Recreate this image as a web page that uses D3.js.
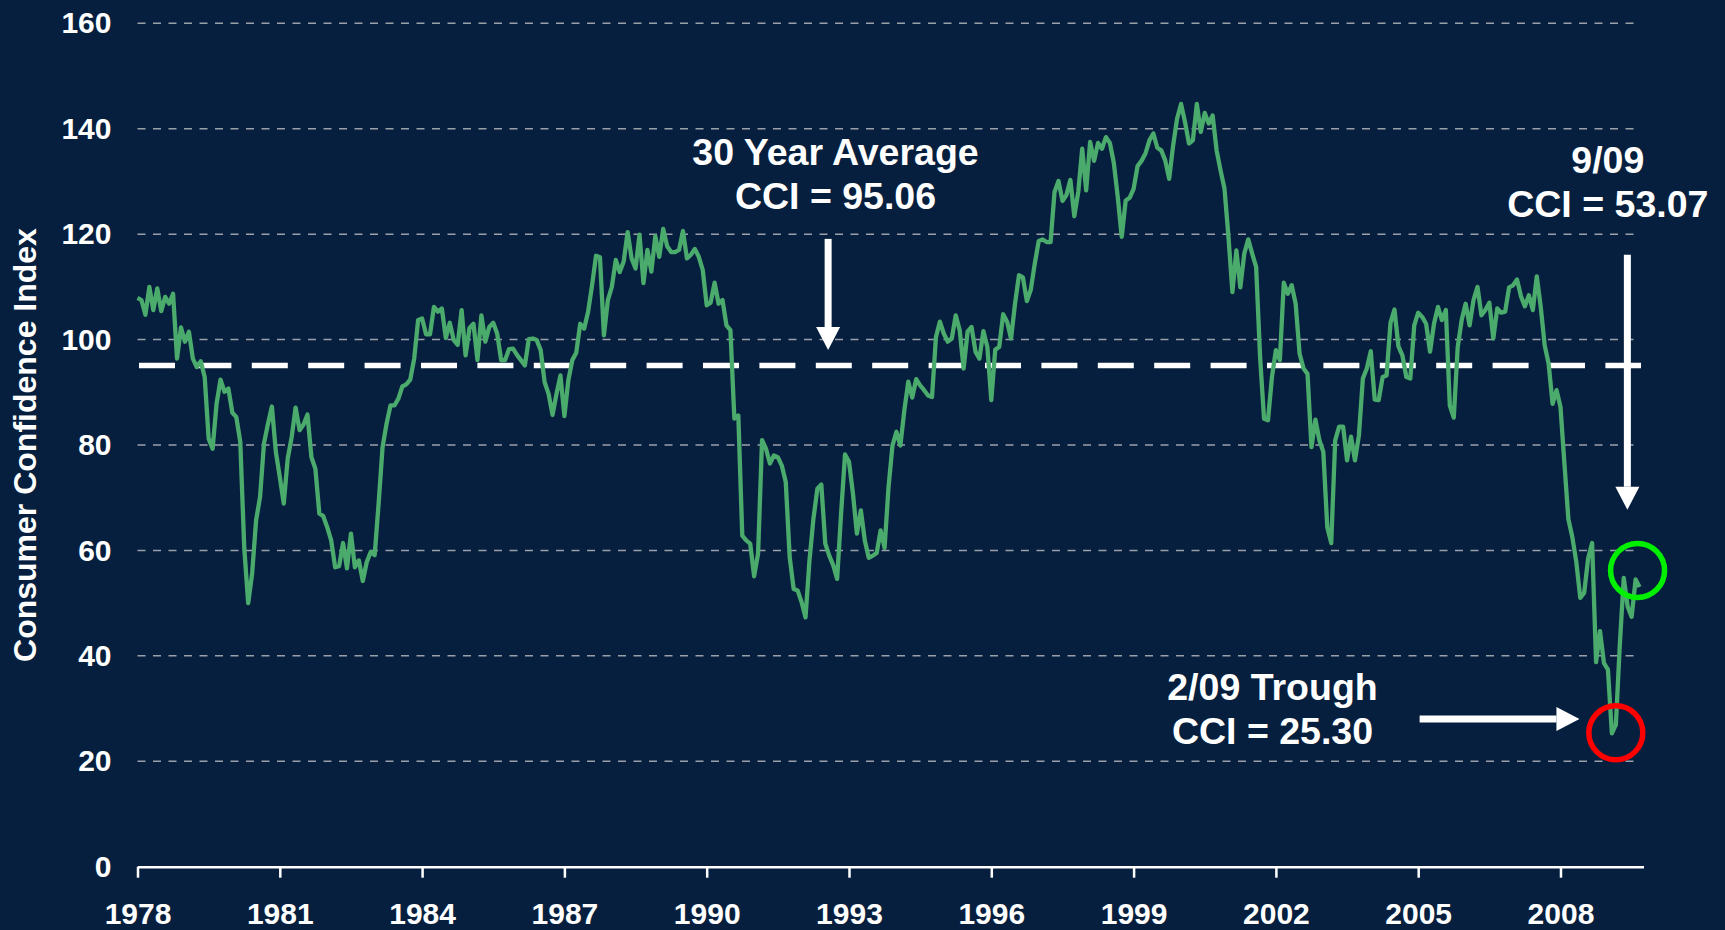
<!DOCTYPE html>
<html>
<head>
<meta charset="utf-8">
<script src="https://cdn.jsdelivr.net/npm/d3@7"></script>
<style>
  body { margin: 0; background: #061f3e; }
  svg { display: block; font-family: "Liberation Sans", Arial, sans-serif; }
</style>
</head>
<body>
<div id="cci"></div>
<script>
// monthly consumer confidence index, jan 1978 -> sep 2009 (one row per year)
const startYear = 1978;
const cciValues = [
  107.9, 107.5, 104.7, 110.0, 105.6, 109.7, 105.4, 108.1, 106.8, 108.7, 96.4, 102.3,
  99.6, 101.5, 96.4, 94.8, 95.9, 92.9, 81.2, 79.3, 87.8, 92.4, 90.1, 90.7,
  86.1, 85.3, 80.6, 60.6, 50.0, 55.6, 65.7, 70.1, 80.3, 84.0, 87.3, 78.7,
  73.9, 68.9, 77.4, 81.5, 87.1, 82.8, 83.9, 85.8, 77.7, 75.5, 67.0, 66.5,
  64.4, 61.9, 56.8, 57.0, 61.4, 56.6, 63.2, 56.8, 58.1, 54.2, 57.8, 59.7,
  59.1, 68.9, 79.6, 84.0, 87.5, 87.5, 88.8, 91.1, 91.5, 92.4, 96.4, 103.7,
  104.0, 101.0, 101.0, 106.2, 105.3, 105.9, 100.3, 103.2, 99.9, 99.0, 105.6, 97.0,
  102.2, 103.0, 96.1, 104.6, 99.6, 102.4, 103.2, 101.1, 96.1, 96.1, 98.2, 98.3,
  97.1, 96.1, 95.1, 100.1, 100.2, 99.9, 98.0, 91.9, 89.7, 85.7, 89.7, 93.2,
  85.5, 92.3, 96.1, 97.5, 103.0, 102.1, 105.3, 110.3, 115.9, 115.6, 100.8, 107.5,
  110.0, 115.1, 112.8, 114.8, 120.4, 115.4, 113.5, 119.9, 110.7, 117.0, 112.9, 119.6,
  115.7, 121.0, 117.7, 116.6, 116.6, 117.0, 120.6, 115.4, 116.1, 117.2, 115.7, 113.2,
  106.5, 107.0, 110.8, 106.8, 107.5, 102.7, 101.8, 85.0, 85.6, 62.8, 61.9, 61.3,
  55.1, 59.4, 80.9, 79.3, 76.5, 78.0, 77.7, 76.1, 73.0, 58.7, 52.7, 52.4,
  50.2, 47.3, 58.1, 66.0, 71.7, 72.5, 61.3, 59.0, 57.2, 54.6, 67.0, 78.2,
  76.8, 70.8, 63.2, 67.6, 61.9, 58.6, 59.0, 59.5, 63.8, 60.5, 72.0, 79.9,
  82.5, 79.9, 86.6, 92.0, 89.0, 92.5, 91.3, 90.4, 89.4, 89.1, 100.5, 103.4,
  101.1, 99.6, 100.2, 104.6, 101.8, 94.5, 101.5, 102.4, 97.7, 96.4, 101.6, 98.6,
  88.5, 98.1, 98.6, 104.8, 103.4, 100.2, 106.8, 112.2, 111.8, 107.3, 109.5, 114.4,
  118.7, 119.0, 118.5, 118.5, 128.0, 130.1, 126.3, 127.4, 130.3, 123.4, 128.0, 136.2,
  128.3, 137.5, 133.9, 137.3, 136.2, 138.4, 137.3, 133.5, 127.0, 119.5, 126.4, 126.9,
  128.6, 132.9, 133.9, 135.3, 137.8, 139.1, 136.4, 135.9, 134.0, 130.5, 136.8, 141.9,
  144.7, 141.3, 137.2, 137.8, 144.7, 139.4, 143.0, 141.0, 142.5, 135.9, 132.1, 128.6,
  119.5, 109.0, 116.9, 109.9, 116.3, 119.0, 116.3, 113.8, 96.7, 85.0, 84.7, 92.9,
  98.0, 96.1, 110.8, 108.7, 110.3, 106.8, 97.3, 94.5, 93.5, 79.6, 84.8, 80.9,
  78.7, 64.4, 61.4, 80.9, 83.5, 83.5, 77.1, 81.6, 77.1, 81.8, 92.6, 94.5,
  97.8, 88.6, 88.5, 92.9, 93.2, 103.2, 105.7, 98.7, 97.0, 92.9, 92.6, 102.7,
  105.1, 104.3, 103.0, 97.7, 103.0, 106.2, 103.7, 105.6, 87.5, 85.2, 98.6, 103.7,
  106.8, 102.7, 107.5, 110.0, 104.6, 105.6, 107.0, 100.2, 105.9, 105.1, 105.3, 109.9,
  110.3, 111.4, 108.2, 106.3, 108.4, 105.6, 112.0, 106.2, 98.9, 95.4, 87.8, 90.4,
  87.2, 76.4, 65.9, 62.5, 57.8, 51.0, 52.0, 58.5, 61.4, 38.8, 44.7, 38.6,
  37.4, 25.3, 26.9, 42.0, 54.8, 49.3, 47.4, 54.5, 53.07
];

const yTicks = [0, 20, 40, 60, 80, 100, 120, 140, 160];
const xTickYears = [1978, 1981, 1984, 1987, 1990, 1993, 1996, 1999, 2002, 2005, 2008];
const averageCCI = 95.06;

// the two highlighted months (decimal years) - circles sit on / near them
const troughMark = { year: 2009 + 2 / 12, value: 25.4 };
const latestMark = { year: 2009 + 7.5 / 12, value: 56.2 };

const W = 1725, H = 930;

const svg = d3.select("#cci")
  .append("svg")
  .attr("width", W)
  .attr("height", H);

svg.append("rect")
  .attr("width", W)
  .attr("height", H)
  .attr("fill", "#061f3e");

// x runs on decimal years, one extra month at the end like the original
const x = d3.scaleLinear()
  .domain([startYear, startYear + cciValues.length / 12])
  .range([137.5, 1643.5]);

const y = d3.scaleLinear()
  .domain([0, 160])
  .range([866.7, 23.3]);

// dashed grid
svg.append("g")
  .selectAll("line")
  .data(yTicks.filter(d => d > 0))
  .join("line")
  .attr("x1", x.range()[0])
  .attr("x2", 1636)
  .attr("y1", d => y(d))
  .attr("y2", d => y(d))
  .attr("stroke", "#9aa0aa")
  .attr("stroke-width", 1.5)
  .attr("stroke-dasharray", "8 7.5");

// y labels (no axis line in the original)
const yAxis = svg.append("g")
  .attr("transform", "translate(" + x.range()[0] + ",0)")
  .call(d3.axisLeft(y).tickValues(yTicks).tickSize(0).tickPadding(26));
yAxis.select(".domain").remove();
yAxis.selectAll("text")
  .attr("fill", "#fff")
  .style("font-size", "30px")
  .style("font-weight", "bold")
  .style("font-family", "Liberation Sans, Arial, sans-serif");

// x axis
const xAxis = svg.append("g")
  .attr("transform", "translate(0," + y(0) + ")")
  .call(d3.axisBottom(x).tickValues(xTickYears).tickFormat(d3.format("d")).tickSize(11).tickPadding(25).tickSizeOuter(0));
xAxis.select(".domain").attr("stroke", "#fff").attr("stroke-width", 2.5);
xAxis.selectAll(".tick line").attr("stroke", "#fff").attr("stroke-width", 2.5);
xAxis.selectAll("text")
  .attr("fill", "#fff")
  .style("font-size", "30px")
  .style("font-weight", "bold")
  .style("font-family", "Liberation Sans, Arial, sans-serif");

// y title
svg.append("text")
  .attr("transform", "translate(36," + y(80) + ") rotate(-90)")
  .attr("text-anchor", "middle")
  .attr("fill", "#fff")
  .style("font-size", "32px")
  .style("font-weight", "bold")
  .text("Consumer Confidence Index");

// 30 year average
svg.append("line")
  .attr("x1", 139)
  .attr("x2", 1641)
  .attr("y1", y(averageCCI))
  .attr("y2", y(averageCCI))
  .attr("stroke", "#fff")
  .attr("stroke-width", 5.5)
  .attr("stroke-dasharray", "36 20.4");

// the cci line itself
const line = d3.line()
  .x((d, i) => x(startYear + i / 12))
  .y(d => y(d));

svg.append("path")
  .datum(cciValues)
  .attr("fill", "none")
  .attr("stroke", "#4aab6c")
  .attr("stroke-width", 4.3)
  .attr("stroke-linejoin", "round")
  .attr("d", line);

// arrows: shaft + triangle head
function arrow(x1, y1, x2, y2) {
  const ang = Math.atan2(y2 - y1, x2 - x1);
  const headLen = 23, headW = 12;
  const bx = x2 - headLen * Math.cos(ang), by = y2 - headLen * Math.sin(ang);
  svg.append("line")
    .attr("x1", x1).attr("y1", y1)
    .attr("x2", bx).attr("y2", by)
    .attr("stroke", "#fff")
    .attr("stroke-width", 7);
  const px = -Math.sin(ang) * headW, py = Math.cos(ang) * headW;
  svg.append("path")
    .attr("d", `M${x2},${y2}L${bx + px},${by + py}L${bx - px},${by - py}Z`)
    .attr("fill", "#fff");
}

arrow(x(1992.56), y(119.1), x(1992.56), y(98.0));
arrow(x(2009.41), y(116.1), x(2009.41), y(67.7));
arrow(x(2005.03), y(28.0), x(2008.40), y(28.0));

// circles
svg.append("circle")
  .attr("cx", x(troughMark.year))
  .attr("cy", y(troughMark.value))
  .attr("r", 27)
  .attr("fill", "none")
  .attr("stroke", "#ff0000")
  .attr("stroke-width", 5.5);

svg.append("circle")
  .attr("cx", x(latestMark.year))
  .attr("cy", y(latestMark.value))
  .attr("r", 27)
  .attr("fill", "none")
  .attr("stroke", "#00f000")
  .attr("stroke-width", 5.5);

// annotation labels
const notes = [
  { x: 835.5, y: 165, text: "30 Year Average" },
  { x: 835.5, y: 209, text: "CCI = 95.06" },
  { x: 1607.8, y: 172.7, text: "9/09" },
  { x: 1607.8, y: 216.7, text: "CCI = 53.07" },
  { x: 1272.5, y: 700, text: "2/09 Trough" },
  { x: 1272.5, y: 744, text: "CCI = 25.30" }
];

svg.selectAll(".note")
  .data(notes)
  .join("text")
  .attr("class", "note")
  .attr("x", d => d.x)
  .attr("y", d => d.y)
  .attr("text-anchor", "middle")
  .attr("fill", "#fff")
  .style("font-size", "37.5px")
  .style("font-weight", "bold")
  .text(d => d.text);
</script>
</body>
</html>
